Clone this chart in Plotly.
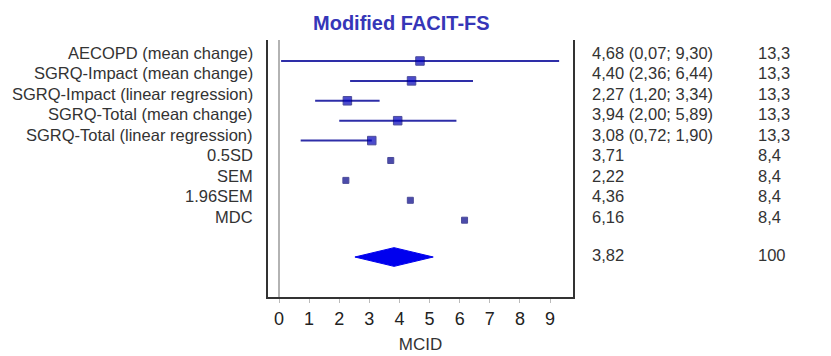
import plotly.graph_objects as go

# ---- data ----
labels = ["AECOPD (mean change)", "SGRQ-Impact (mean change)", "SGRQ-Impact (linear regression)",
          "SGRQ-Total (mean change)", "SGRQ-Total (linear regression)", "0.5SD", "SEM", "1.96SEM", "MDC"]
estimates = [4.68, 4.40, 2.27, 3.94, 3.08, 3.71, 2.22, 4.36, 6.16]
ci_low = [0.07, 2.36, 1.20, 2.00, 0.72, None, None, None, None]
ci_high = [9.30, 6.44, 3.34, 5.89, 1.90, None, None, None, None]
weights = [13.3, 13.3, 13.3, 13.3, 13.3, 8.4, 8.4, 8.4, 8.4]
ci_text = ["4,68 (0,07; 9,30)", "4,40 (2,36; 6,44)", "2,27 (1,20; 3,34)", "3,94 (2,00; 5,89)",
           "3,08 (0,72; 1,90)", "3,71", "2,22", "4,36", "6,16"]
weight_text = ["13,3", "13,3", "13,3", "13,3", "13,3", "8,4", "8,4", "8,4", "8,4"]
pooled_est = 3.82
pooled_low = 2.52
pooled_high = 5.12
pooled_text = "3,82"
pooled_weight_text = "100"
x_ticks = [0, 1, 2, 3, 4, 5, 6, 7, 8, 9]

rows = list(range(len(labels)))
pooled_row = 9.85
FONT = "Liberation Sans, Arial, sans-serif"
label_font = dict(family=FONT, size=16.5, color="#333333")

fig = go.Figure()

# CI lines
lx, ly = [], []
for r, lo, hi, est in zip(rows, ci_low, ci_high, estimates):
    if lo is None:
        continue
    lx += [lo, max(hi, est), None]
    ly += [r, r, None]
fig.add_trace(go.Scatter(x=lx, y=ly, mode="lines", line=dict(color="#2e2ea8", width=2),
                         hoverinfo="skip", showlegend=False))

# squares
sizes = [8.5 if w > 10 else 6 for w in weights]
colors = ["#0000b8" if w > 10 else "#000088" for w in weights]
fig.add_trace(go.Scatter(x=estimates, y=rows, mode="markers",
                         marker=dict(symbol="square", size=sizes, color=colors,
                                     line=dict(width=1, color="#000070")),
                         showlegend=False))

# pooled diamond
h = 0.47
fig.add_trace(go.Scatter(x=[pooled_low, pooled_est, pooled_high, pooled_est, pooled_low],
                         y=[pooled_row, pooled_row - h, pooled_row, pooled_row + h, pooled_row],
                         fill="toself", fillcolor="#0000ee", mode="lines",
                         line=dict(color="#0000ee", width=1), showlegend=False))

# zero line
fig.add_shape(type="line", x0=0, x1=0, xref="x", y0=0, y1=1, yref="paper",
              line=dict(color="#9a9a9a", width=1.5))

ann = []
for r, lab, ct, wt in zip(rows, labels, ci_text, weight_text):
    ty = r * 1.03 - 0.42
    ann.append(dict(x=0, xref="paper", xanchor="right", xshift=-13, y=ty, yref="y",
                    text=lab, showarrow=False, font=label_font))
    ann.append(dict(x=1, xref="paper", xanchor="left", xshift=17, y=ty, yref="y",
                    text=ct, showarrow=False, font=label_font))
    ann.append(dict(x=1, xref="paper", xanchor="left", xshift=183, y=ty, yref="y",
                    text=wt, showarrow=False, font=label_font))
ann.append(dict(x=1, xref="paper", xanchor="left", xshift=17, y=pooled_row - 0.12, yref="y",
                text=pooled_text, showarrow=False, font=label_font))
ann.append(dict(x=1, xref="paper", xanchor="left", xshift=183, y=pooled_row - 0.12, yref="y",
                text=pooled_weight_text, showarrow=False, font=label_font))
ann.append(dict(x=1, xref="paper", xanchor="left", xshift=17, y=-1.46, yref="y",
                text="MCID (95%CI)", showarrow=False, font=label_font))
ann.append(dict(x=1, xref="paper", xanchor="left", xshift=183, y=-1.46, yref="y",
                text="% Weight", showarrow=False, font=label_font))
ann.append(dict(x=0.4377, xref="paper", xanchor="center", y=1, yref="paper", yanchor="middle", yshift=17,
                text="<b>Modified FACIT-FS</b>", showarrow=False,
                font=dict(family=FONT, size=20, color="#3636b8")))

fig.update_layout(
    width=823, height=348,
    margin=dict(l=260, r=258, t=32, b=59, autoexpand=False),
    paper_bgcolor="white", plot_bgcolor="white",
    annotations=ann,
    xaxis=dict(range=[-0.365, 9.76], tickvals=x_ticks, ticktext=[str(t) for t in x_ticks],
               automargin=False,
               showgrid=False, zeroline=False, showline=True, linecolor="#333333", linewidth=2,
               ticks="outside", ticklen=4, tickcolor="#bbbbbb",
               tickfont=dict(family=FONT, size=18, color="#222222"),
               title=dict(text="MCID", standoff=11,
                          font=dict(family=FONT, size=17, color="#333333"))),
    yaxis=dict(range=[11.86, -1.055], showgrid=False, zeroline=False, showticklabels=False,
               automargin=False,
               showline=True, mirror=True, linecolor="#333333", linewidth=2, ticks=""),
)

fig.write_html("out.html")
